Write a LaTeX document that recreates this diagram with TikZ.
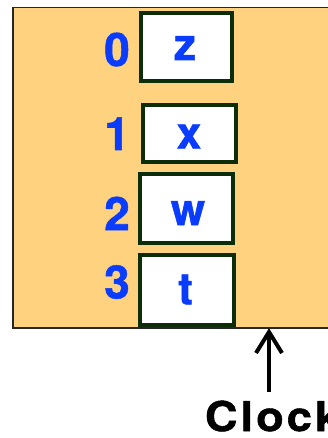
\documentclass[tikz,border=0pt]{standalone}
\usepackage{fontspec}
\setmainfont{TeX Gyre Heros}[BoldFeatures={FakeBold=1.2}]
\definecolor{regfill}{HTML}{FED27E}
\definecolor{txtblue}{HTML}{0A3CFF}
\definecolor{boxgreen}{HTML}{0B2E08}
\tikzset{
  regframe/.style={draw=black!85, line width=1.5pt, fill=regfill},
  cellbox/.style={draw=boxgreen, line width=4pt, fill=white, inner sep=0pt, rectangle},
  celltext/.style={text=txtblue, font=\fontsize{44}{44}\selectfont\bfseries, inner sep=0pt, anchor=base},
  idxtext/.style={text=txtblue, font=\fontsize{46}{46}\selectfont\bfseries, inner sep=0pt, anchor=base east},
  clocktext/.style={text=black, font=\fontsize{41}{41}\selectfont\bfseries, inner sep=0pt, anchor=base west},
  clockline/.style={draw=black, line width=4pt, line join=miter, miter limit=10}
}
\begin{document}
\begin{tikzpicture}[x=1pt,y=-1pt]
\path[use as bounding box, clip] (0,0) rectangle (328,438);
% register body
\node[regframe, inner sep=0pt, minimum width=340pt, minimum height=320pt, anchor=north west] (reg) at (12,7) {};
% cells
\node[cellbox, minimum width=91pt, minimum height=68.6pt] (bz) at (186.8,47) {};
\node[cellbox, minimum width=92.7pt, minimum height=57.3pt] (bx) at (189.3,133.3) {};
\node[cellbox, minimum width=92.7pt, minimum height=68.7pt] (bw) at (186.7,208.7) {};
\node[cellbox, minimum width=93.4pt, minimum height=69.4pt] (bt) at (187,290) {};
% cell contents
\node[celltext] (lz) at (185,60) {z};
\node[celltext] (lx) at (189,148.3) {x};
\node[celltext] (lw) at (188,225) {w};
\node[celltext] (lt) at (185.5,304.3) {t};
% indices
\node[idxtext] (i0) at (130,66) {0};
\node[idxtext] (i1) at (130,150) {1};
\node[idxtext] (i2) at (130,230) {2};
\node[idxtext] (i3) at (130,298.5) {3};
% clock
\node[clocktext] (clk) at (204.8,431) {\scalebox{1.1}[1]{C\kern2.8pt l\kern2.8pt o\kern2.8pt c\kern2.8pt k}};
\coordinate (arrtail) at (269,392);
\coordinate (arrtip) at (269,332);
\draw[clockline] (arrtail) -- (arrtip);
\draw[clockline] (arrtip) ++(-13,21) -- (arrtip) -- ++(13,21);
\end{tikzpicture}
\end{document}
